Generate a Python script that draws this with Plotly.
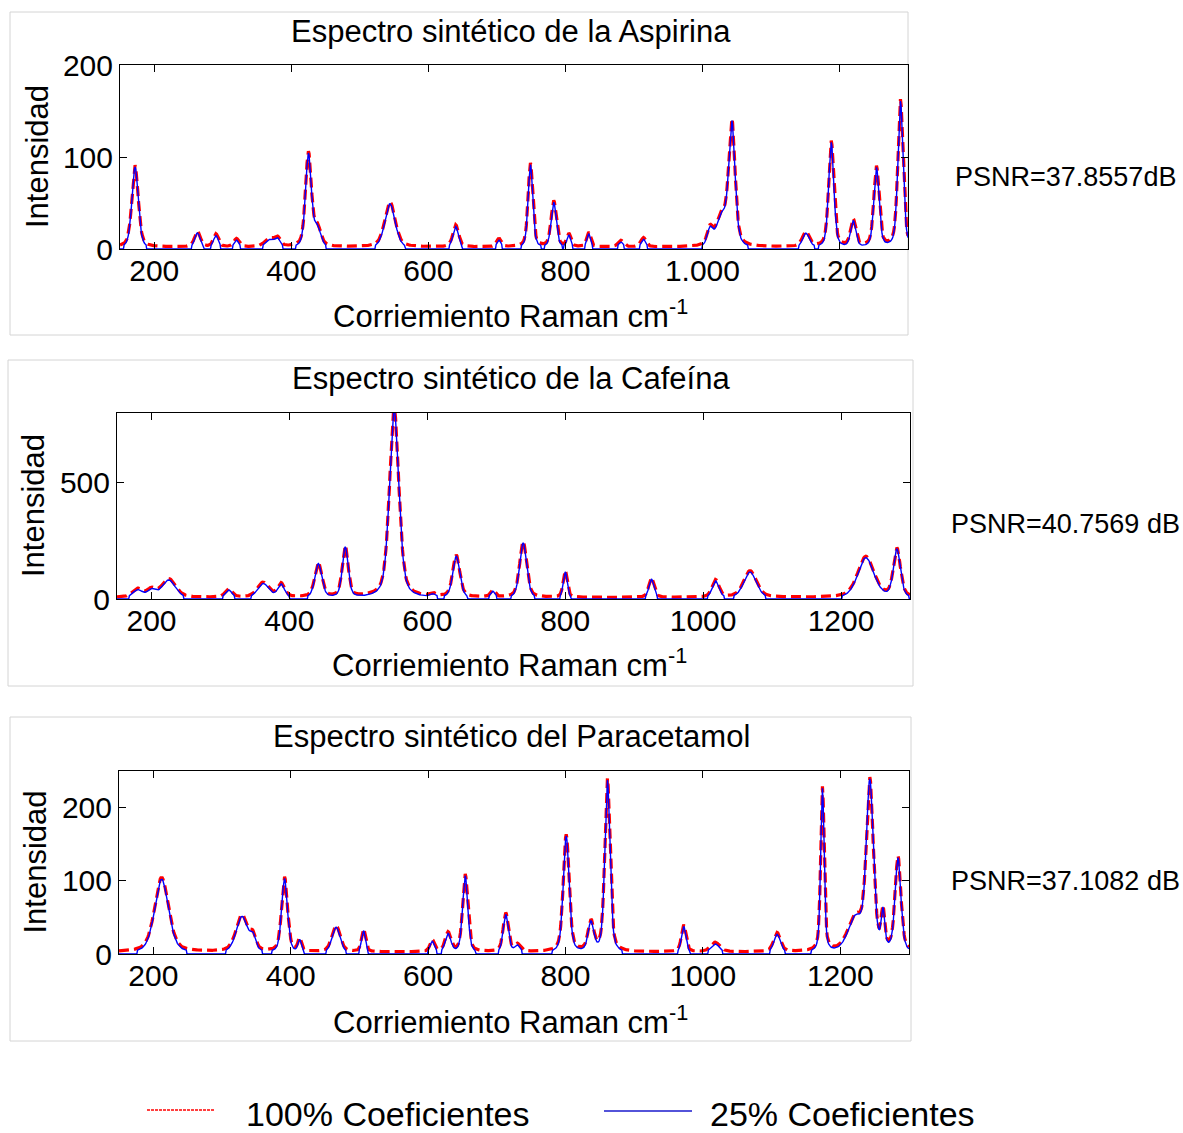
import numpy as np
import plotly.graph_objects as go

W, H = 1183, 1133
FONT = "Liberation Sans, Arial, Helvetica, sans-serif"

# Raman shift axis (cm^-1)
raman = np.arange(150.0, 1301.0, 1.0)

# Band parameters: centre (cm^-1), peak intensity, FWHM (cm^-1)
aspirina_centros = [172, 263, 290, 320, 368, 380, 425, 438, 544, 640, 703, 749, 783, 805, 834, 881, 914, 1011, 1028, 1043, 1151, 1188, 1220, 1254, 1289]
aspirina_alturas = [89, 17, 14, 9, 9, 9, 102, 20, 49, 24, 9, 91, 50, 14, 16, 7, 10, 18, 32, 133, 16, 115, 29, 87, 160]
aspirina_anchos = [11, 10, 9, 9, 16, 10, 10, 12, 18, 10, 8, 8, 9, 7, 7, 10, 9, 10, 18, 11, 12, 9, 9, 9, 9]

cafeina_centros = [180, 200, 225, 312, 362, 388, 442, 481, 552, 608, 642, 695, 739, 800, 925, 1018, 1068, 1236, 1281]
cafeina_alturas = [36, 32, 80, 36, 64, 58, 148, 218, 810, 12, 180, 29, 240, 115, 85, 75, 115, 176, 208]
cafeina_anchos = [18, 14, 24, 12, 20, 12, 12, 10, 16, 10, 12, 8, 12, 7, 9, 12, 22, 28, 12]

paracetamol_centros = [212, 329, 345, 391, 413, 466, 506, 606, 629, 654, 713, 730, 801, 837, 861, 972, 1018, 1108, 1174, 1222, 1243, 1262, 1284]
paracetamol_alturas = [102, 50, 18, 102, 17, 36, 31, 16, 26, 106, 53, 10, 160, 40, 236, 37, 13, 26, 224, 45, 228, 50, 128]
paracetamol_anchos = [24, 20, 10, 10, 6, 14, 7, 8, 10, 9, 9, 10, 10, 10, 9, 8, 16, 12, 6, 26, 12, 6, 10]

# PSNR of the 25 % reconstruction for each compound
psnr_textos = ["PSNR=37.8557dB", "PSNR=40.7569 dB", "PSNR=37.1082 dB"]

titulos = [
    "Espectro sintético de la Aspirina",
    "Espectro sintético de la Cafeína",
    "Espectro sintético del Paracetamol",
]

x_ticks = [200, 400, 600, 800, 1000, 1200]
x_ticktext = [
    ["200", "400", "600", "800", "1.000", "1.200"],
    ["200", "400", "600", "800", "1000", "1200"],
    ["200", "400", "600", "800", "1000", "1200"],
]
y_ticks = [[0, 100, 200], [0, 500], [0, 100, 200]]
y_max = [200, 800, 250]


def espectro(centros, alturas, anchos, eta=0.45):
    """Sum of pseudo-Voigt bands evaluated on the Raman axis."""
    y = np.zeros_like(raman)
    for c, a, w in zip(centros, alturas, anchos):
        hw = w / 2.0
        lor = 1.0 / (1.0 + ((raman - c) / hw) ** 2)
        gau = np.exp(-np.log(2) * ((raman - c) / hw) ** 2)
        y += a * (eta * lor + (1 - eta) * gau)
    return y


compuestos = [
    (aspirina_centros, aspirina_alturas, aspirina_anchos),
    (cafeina_centros, cafeina_alturas, cafeina_anchos),
    (paracetamol_centros, paracetamol_alturas, paracetamol_anchos),
]
# 25 % reconstruction keeps only the strong coefficients: weak regions collapse to zero
umbral = [4.0, 14.0, 5.0]
# small residual level of the full reconstruction along the baseline
fondo = [2.0, 6.0, 2.5]

# plot-area boxes in pixels: (left, right, top, bottom)
areas = [(120, 908, 65, 249), (117, 910, 413, 599), (119, 909, 771, 954)]
marcos = [(10, 908, 12, 335), (8, 913, 360, 686), (10, 911, 717, 1041)]
titulo_y = [31, 378, 736]
xlabel_y = [314, 663, 1020]
ylabel_x = [37, 33, 35]
psnr_y = [177, 524, 881]


def px(x):
    return x / W


def py(y):
    return 1 - y / H


fig = go.Figure()
annotations = []
shapes = []

for i, (cen, alt, anc) in enumerate(compuestos):
    completo = espectro(cen, alt, anc)
    reducido = np.where(completo > umbral[i], completo, 0.0)
    rojo = completo + fondo[i]
    xa = "x" if i == 0 else f"x{i + 1}"
    ya = "y" if i == 0 else f"y{i + 1}"
    fig.add_trace(go.Scatter(
        x=raman, y=rojo, mode="lines", xaxis=xa, yaxis=ya,
        name="100% Coeficientes", showlegend=False,
        line=dict(color="#ff0000", width=3.2, dash="10px,5px"),
    ))
    fig.add_trace(go.Scatter(
        x=raman, y=reducido, mode="lines", xaxis=xa, yaxis=ya,
        name="25% Coeficientes", showlegend=False,
        line=dict(color="#0000ff", width=1.4),
    ))

    l, r, t, b = areas[i]
    suf = "" if i == 0 else str(i + 1)
    axis_common = dict(
        showline=True, linecolor="#000000", linewidth=1, mirror="ticks",
        ticks="inside", ticklen=7, tickwidth=1, tickcolor="#000000",
        showgrid=False, zeroline=False, automargin=False,
        tickfont=dict(family=FONT, size=30, color="#000000"),
    )
    fig.update_layout(**{
        f"xaxis{suf}": dict(
            domain=[px(l), px(r)], range=[150, 1300], anchor=f"y{suf}",
            tickvals=x_ticks, ticktext=x_ticktext[i],
            ticklabelstandoff=-5, **axis_common,
        ),
        f"yaxis{suf}": dict(
            domain=[py(b), py(t)], range=[0, y_max[i]], anchor=f"x{suf}",
            tickvals=y_ticks[i], **axis_common,
        ),
    })

    ml, mr, mt, mb = marcos[i]
    shapes.append(dict(
        type="rect", xref="paper", yref="paper",
        x0=px(ml), x1=px(mr), y0=py(mb), y1=py(mt),
        line=dict(color="#d4d4d4", width=1), layer="below",
    ))

    cx = (l + r) / 2
    annotations += [
        dict(text=titulos[i], x=px(cx - 3), y=py(titulo_y[i]),
             font=dict(family=FONT, size=31, color="#000000")),
        dict(text="Corriemiento Raman cm<sup>-1</sup>", x=px(cx - 4), y=py(xlabel_y[i]),
             font=dict(family=FONT, size=31, color="#000000")),
        dict(text="Intensidad", x=px(ylabel_x[i]), y=py((t + b) / 2), textangle=-90,
             font=dict(family=FONT, size=31, color="#000000")),
        dict(text=psnr_textos[i], x=px(1065), y=py(psnr_y[i]),
             font=dict(family=FONT, size=27, color="#000000")),
    ]

# key at the bottom
shapes += [
    dict(type="line", xref="paper", yref="paper", x0=px(147), x1=px(214),
         y0=py(1110), y1=py(1110), line=dict(color="#ff0000", width=1.5, dash="3px,1px")),
    dict(type="line", xref="paper", yref="paper", x0=px(604), x1=px(692),
         y0=py(1111), y1=py(1111), line=dict(color="#1a1acc", width=1.5)),
]
annotations += [
    dict(text="100% Coeficientes", x=px(244), y=py(1114), xanchor="left",
         font=dict(family=FONT, size=34, color="#000000")),
    dict(text="25% Coeficientes", x=px(708), y=py(1114), xanchor="left",
         font=dict(family=FONT, size=34, color="#000000")),
]

for a in annotations:
    a.setdefault("xanchor", "center")
    a.update(xref="paper", yref="paper", yanchor="middle", showarrow=False)

fig.update_layout(
    template="none",
    width=W, height=H,
    margin=dict(l=0, r=0, t=0, b=0, pad=0),
    paper_bgcolor="#ffffff", plot_bgcolor="#ffffff",
    showlegend=False,
    annotations=annotations,
    shapes=shapes,
)

fig.write_html("out.html")
